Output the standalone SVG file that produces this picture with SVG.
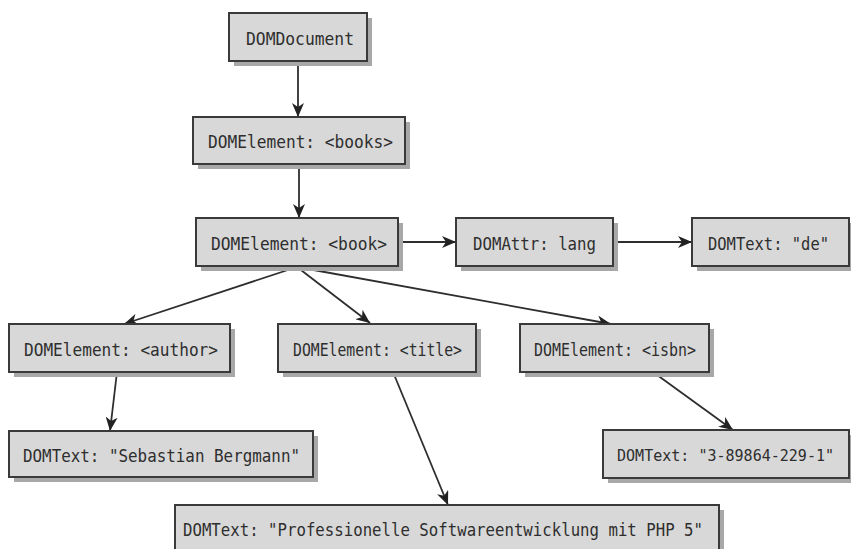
<svg xmlns="http://www.w3.org/2000/svg" width="856" height="549" viewBox="0 0 856 549">
<style>
.box{fill:#d8d8d8;stroke:#3a3a3a;stroke-width:2}
.sh{fill:#a8a8a8}
.t{font-family:"DejaVu Sans Mono","Liberation Mono",monospace;font-size:18px;fill:#2e2e2e;dominant-baseline:central}
.c{fill:none;stroke:#2e2e2e;stroke-width:1.8}
</style>
<defs>
<marker id="ah" viewBox="0 0 14 12" refX="14" refY="6" markerWidth="14" markerHeight="12" orient="auto" markerUnits="userSpaceOnUse">
<path d="M0,0 L14,6 L0,12 L4,6 z" fill="#222"/>
</marker>
</defs>
<rect width="856" height="549" fill="#ffffff"/>

<g id="connectors">
<line class="c" x1="298" y1="61" x2="298" y2="117" marker-end="url(#ah)"/>
<line class="c" x1="299" y1="164" x2="299" y2="218" marker-end="url(#ah)"/>
<line class="c" x1="398" y1="242" x2="456" y2="242" marker-end="url(#ah)"/>
<line class="c" x1="613" y1="242" x2="692" y2="242" marker-end="url(#ah)"/>
<line class="c" x1="297" y1="267" x2="124" y2="324" marker-end="url(#ah)"/>
<line class="c" x1="297" y1="267" x2="370" y2="323" marker-end="url(#ah)"/>
<line class="c" x1="297" y1="267" x2="611" y2="324" marker-end="url(#ah)"/>
<line class="c" x1="117" y1="372" x2="110" y2="431" marker-end="url(#ah)"/>
<line class="c" x1="393" y1="372" x2="448" y2="505" marker-end="url(#ah)"/>
<line class="c" x1="653" y1="372" x2="733" y2="430" marker-end="url(#ah)"/>
</g>

<g id="n-document">
<rect class="sh" x="234" y="18" width="138" height="48"/>
<rect class="box" x="229" y="13" width="138" height="48"/>
<text class="t" x="246" y="38" textLength="108" lengthAdjust="spacingAndGlyphs">DOMDocument</text>
</g>

<g id="n-books">
<rect class="sh" x="198" y="122" width="212" height="47"/>
<rect class="box" x="193" y="117" width="212" height="47"/>
<text class="t" x="208" y="141" textLength="185" lengthAdjust="spacingAndGlyphs">DOMElement: &lt;books&gt;</text>
</g>

<g id="n-book">
<rect class="sh" x="201" y="223" width="202" height="48"/>
<rect class="box" x="196" y="218" width="202" height="48"/>
<text class="t" x="211" y="243" textLength="176" lengthAdjust="spacingAndGlyphs">DOMElement: &lt;book&gt;</text>
</g>

<g id="n-attr">
<rect class="sh" x="461" y="223" width="157" height="48"/>
<rect class="box" x="456" y="218" width="157" height="48"/>
<text class="t" x="473" y="243" textLength="123" lengthAdjust="spacingAndGlyphs">DOMAttr: lang</text>
</g>

<g id="n-de">
<rect class="sh" x="697" y="223" width="154" height="48"/>
<rect class="box" x="692" y="218" width="157" height="48"/>
<text class="t" x="708" y="243" textLength="121" lengthAdjust="spacingAndGlyphs">DOMText: "de"</text>
</g>

<g id="n-author">
<rect class="sh" x="14" y="329" width="221" height="48"/>
<rect class="box" x="9" y="324" width="221" height="48"/>
<text class="t" x="24" y="349" textLength="194" lengthAdjust="spacingAndGlyphs">DOMElement: &lt;author&gt;</text>
</g>

<g id="n-title">
<rect class="sh" x="283" y="329" width="198" height="48"/>
<rect class="box" x="278" y="324" width="198" height="48"/>
<text class="t" x="293" y="349" textLength="169" lengthAdjust="spacingAndGlyphs">DOMElement: &lt;title&gt;</text>
</g>

<g id="n-isbn">
<rect class="sh" x="525" y="329" width="189" height="48"/>
<rect class="box" x="520" y="324" width="189" height="48"/>
<text class="t" x="534" y="349" textLength="162" lengthAdjust="spacingAndGlyphs">DOMElement: &lt;isbn&gt;</text>
</g>

<g id="n-author-text">
<rect class="sh" x="14" y="436" width="304" height="46"/>
<rect class="box" x="9" y="431" width="304" height="46"/>
<text class="t" x="23" y="455" textLength="277" lengthAdjust="spacingAndGlyphs">DOMText: "Sebastian Bergmann"</text>
</g>

<g id="n-isbn-text">
<rect class="sh" x="608" y="435" width="243" height="48"/>
<rect class="box" x="603" y="430" width="246" height="48"/>
<text class="t" x="617" y="455" style="font-size:16px" textLength="217" lengthAdjust="spacingAndGlyphs">DOMText: "3-89864-229-1"</text>
</g>

<g id="n-title-text">
<rect class="sh" x="180" y="510" width="544" height="48"/>
<rect class="box" x="175" y="505" width="544" height="48"/>
<text class="t" x="183" y="529" textLength="520" lengthAdjust="spacingAndGlyphs">DOMText: "Professionelle Softwareentwicklung mit PHP 5"</text>
</g>
</svg>
